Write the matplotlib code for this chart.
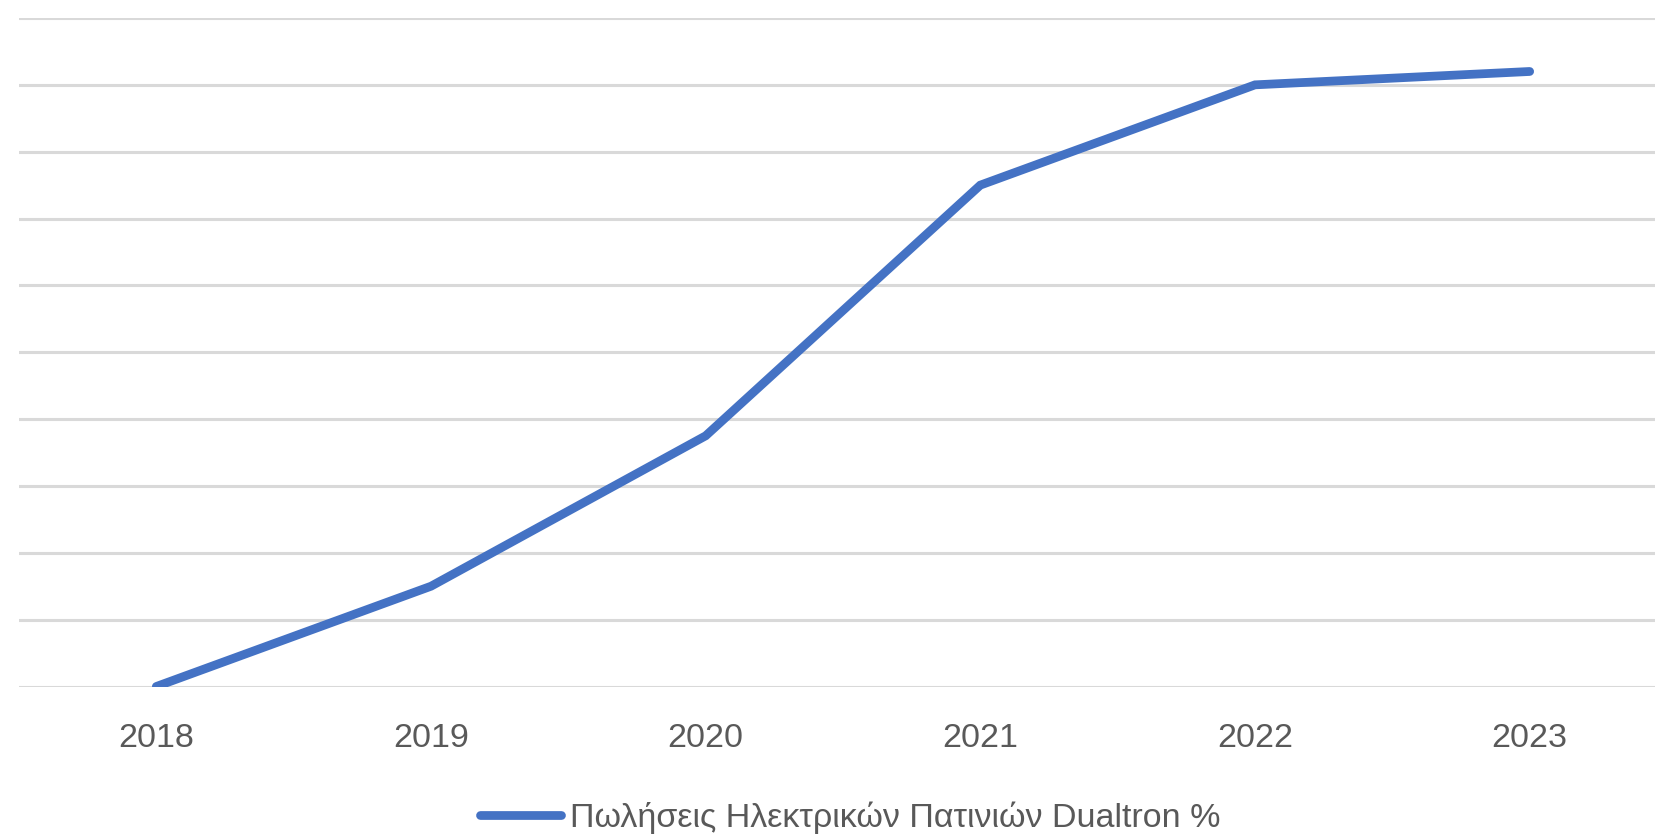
import matplotlib
matplotlib.use("Agg")
import matplotlib.pyplot as plt

plt.rcParams["font.family"] = ["Liberation Sans", "DejaVu Sans"]

# data
years = ["2018", "2019", "2020", "2021", "2022", "2023"]
sales_pct = [0.0, 1.5, 3.75, 7.5, 9.0, 9.2]
series_label = "Πωλήσεις Ηλεκτρικών Πατινιών Dualtron %"

fig = plt.figure(figsize=(16.56, 8.34), dpi=100)
# axes runs a little past the right edge, like the cropped original
ax = fig.add_axes([19 / 1656, 1 - 686.5 / 834, 1648 / 1656, 668.5 / 834])

x = range(len(years))
line, = ax.plot(x, sales_pct, color="#4472C4", linewidth=6.3,
                solid_capstyle="round", solid_joinstyle="miter", zorder=3)

ax.set_xlim(-0.5, len(years) - 0.5)
ax.set_ylim(0, 10)
ax.set_yticks(range(0, 11))
ax.set_yticklabels([])
ax.set_xticks(list(x))
ax.set_xticklabels(years, fontsize=24.5, color="#595959")
ax.tick_params(axis="both", length=0)
ax.tick_params(axis="x", pad=26)
ax.grid(axis="y", color="#d9d9d9", linewidth=2.2)
ax.set_axisbelow(True)
for s in ax.spines.values():
    s.set_visible(False)

fig.legend([line], [series_label], loc="center", bbox_to_anchor=(850 / 1656, 1 - 818 / 834),
           frameon=False, fontsize=24.5, handlelength=2.4, handletextpad=0.25,
           labelcolor="#595959")

fig.savefig("out.png", dpi=100, facecolor="white")
